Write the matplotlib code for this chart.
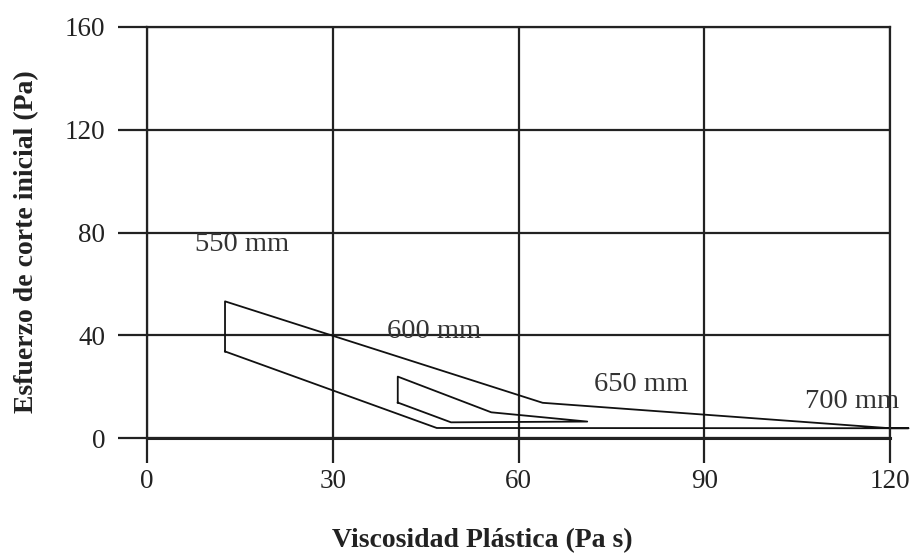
import matplotlib
matplotlib.use("Agg")
import matplotlib.pyplot as plt

# ---- data ----
x_ticks = [0, 30, 60, 90, 120]
y_ticks = [0, 40, 80, 120, 160]

# outer region (550 mm -> 700 mm envelope)
outer_x = [12.6, 12.6, 63.9, 120.0, 123.0, 46.8, 12.6]
outer_y = [33.7, 53.2, 13.7, 3.8, 3.8, 3.9, 33.7]

# inner region (600 mm -> 650 mm)
inner_x = [40.5, 40.5, 55.6, 71.1, 49.1, 40.5]
inner_y = [13.8, 23.9, 10.0, 6.4, 6.1, 13.8]

label_text = ["550 mm", "600 mm", "650 mm", "700 mm"]
label_x = [15.3, 46.4, 79.8, 113.8]
label_y = [75.3, 41.5, 20.7, 14.2]

x_title = "Viscosidad Plástica (Pa s)"
y_title = "Esfuerzo de corte inicial (Pa)"

# ---- figure ----
plt.rcParams['font.family'] = ['Liberation Serif', 'DejaVu Serif']
fig = plt.figure(figsize=(9.1, 5.57), dpi=100)
ax = fig.add_axes([147/910, 1-438/557, (890-147)/910, (438-27)/557])

ink = "#222222"
ax.set_xlim(0, 120)
ax.set_ylim(0, 160)
ax.set_xticks(x_ticks)
ax.set_yticks(y_ticks)
ax.grid(True, color=ink, linewidth=1.6)
ax.set_axisbelow(True)
for s in ax.spines.values():
    s.set_color(ink)
    s.set_linewidth(1.6)
ax.spines['bottom'].set_linewidth(2.2)

ax.tick_params(axis='y', direction='out', length=21, width=1.6, color=ink,
               pad=9, labelsize=19.5, labelcolor=ink)
ax.tick_params(axis='x', direction='out', length=18, width=1.6, color=ink,
               pad=4, labelsize=19.5, labelcolor=ink)

ax.plot(outer_x, outer_y, color="#111111", linewidth=1.3, clip_on=False)
ax.plot(inner_x, inner_y, color="#111111", linewidth=1.3, clip_on=False)

for t, lx, ly in zip(label_text, label_x, label_y):
    ax.text(lx, ly, t, ha='center', va='center', fontsize=20.5, color="#333333")

ax.set_xlabel(x_title, fontsize=20, fontweight='bold', color=ink, va='center')
ax.xaxis.set_label_coords((482-147)/743, (438-541)/411)
ax.set_ylabel(y_title, fontsize=20, fontweight='bold', color=ink, va='center', ha='center')
ax.yaxis.set_label_coords((27-147)/743, (438-242)/411)

fig.savefig("out.png", dpi=100)
